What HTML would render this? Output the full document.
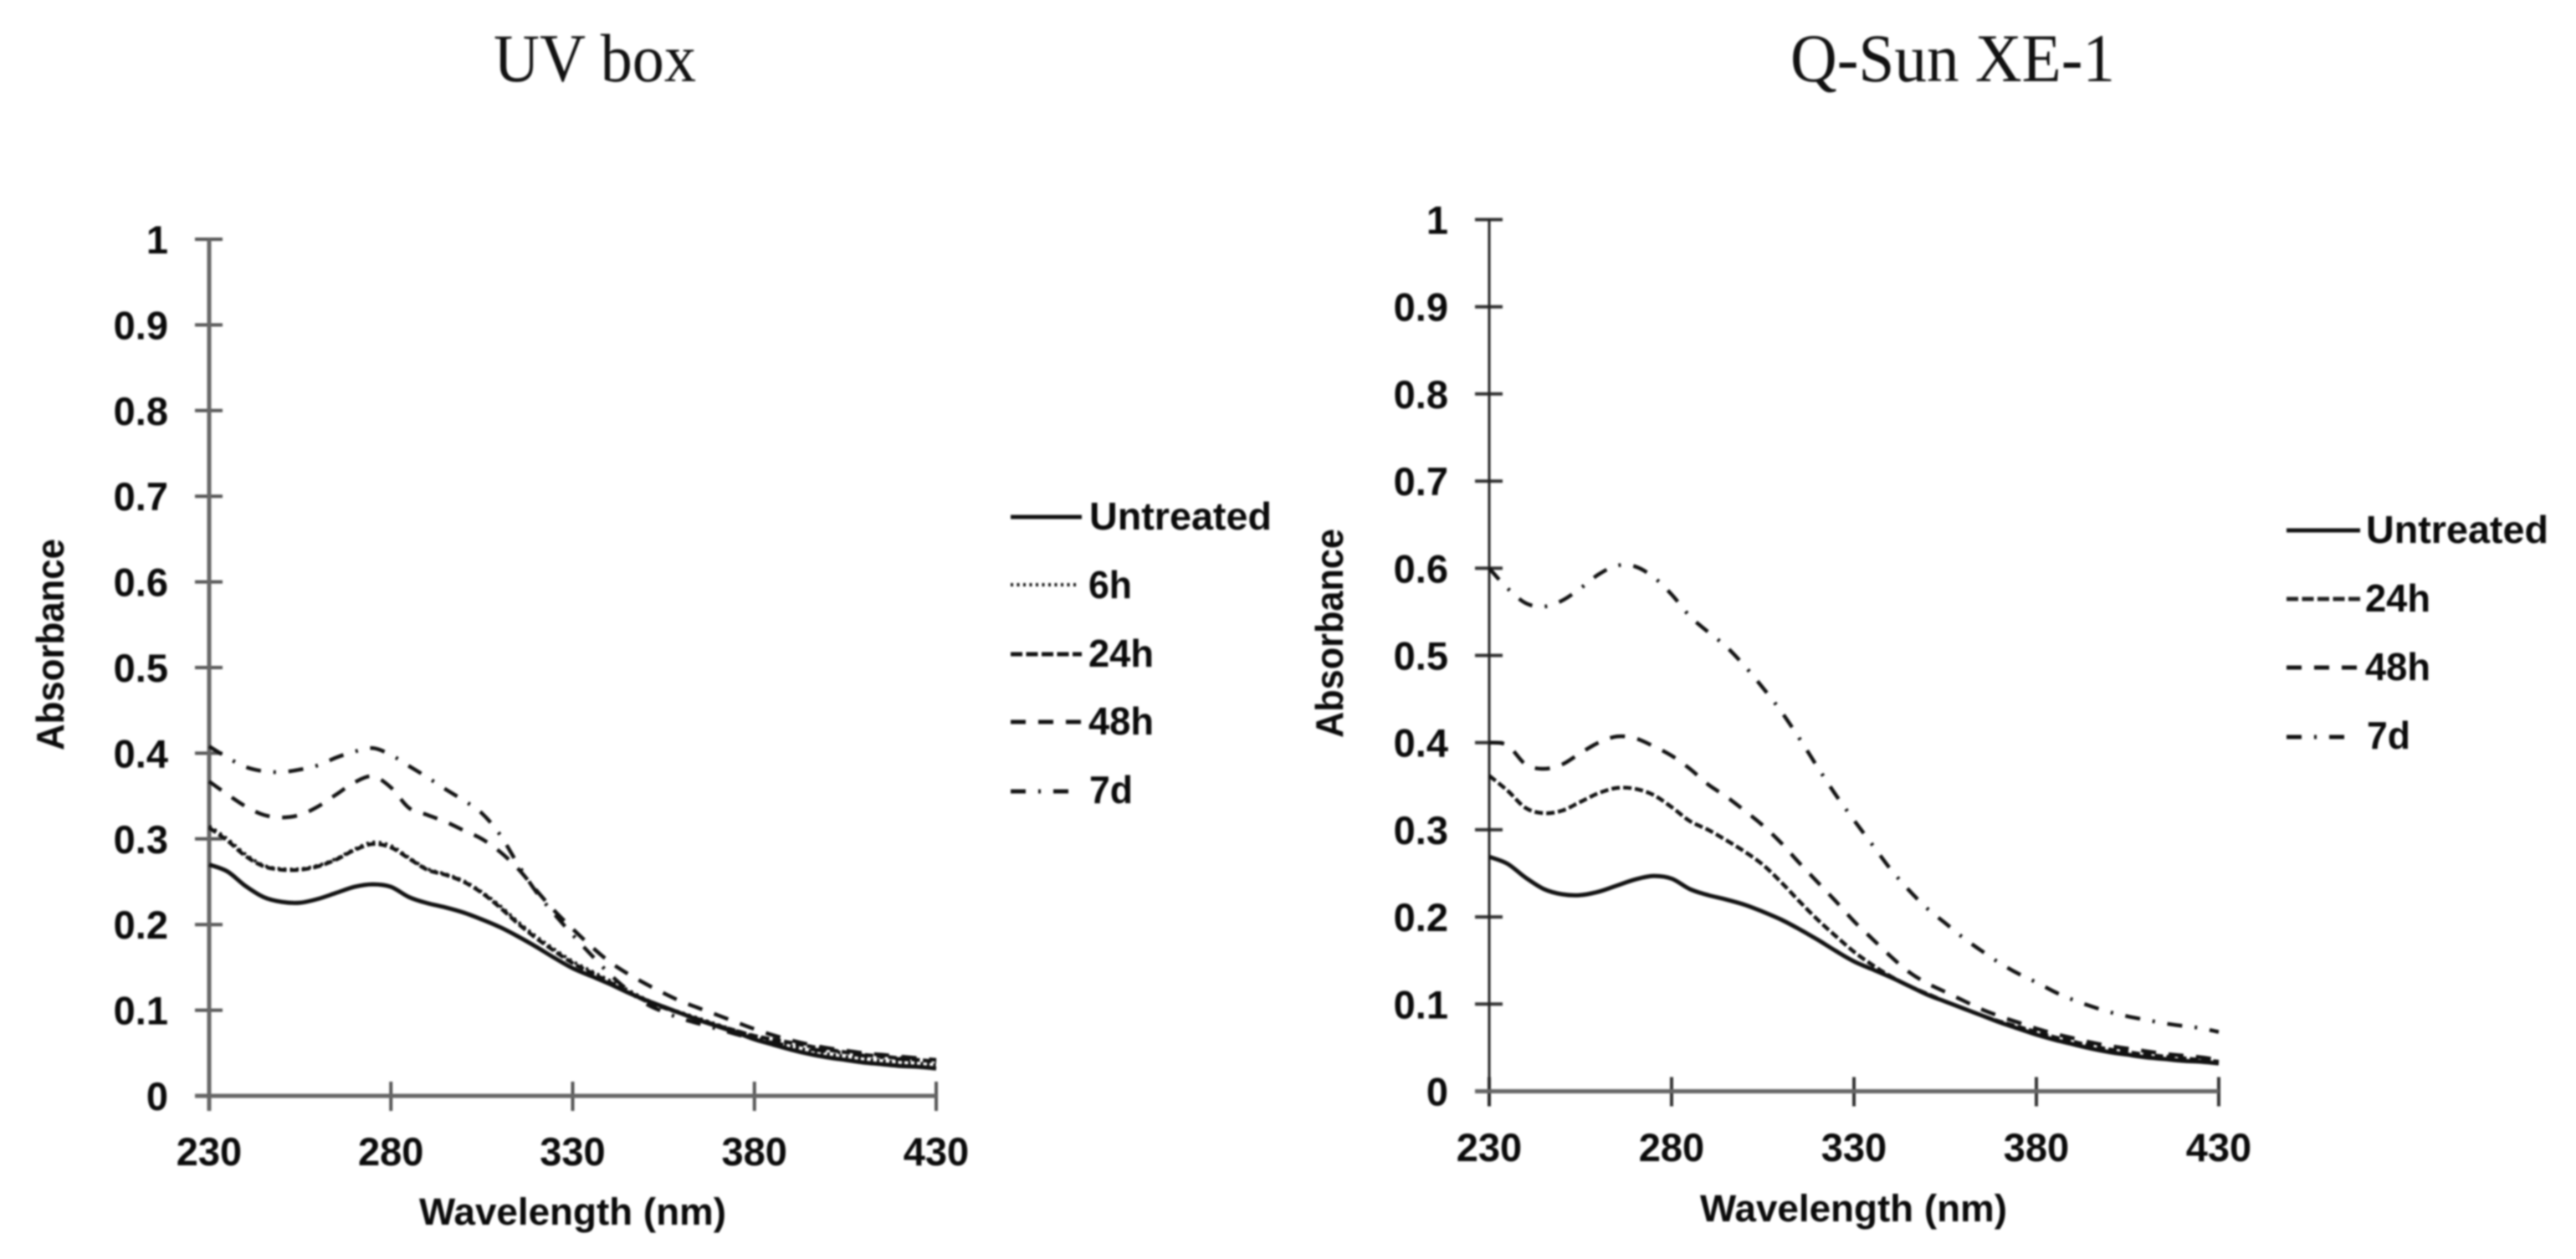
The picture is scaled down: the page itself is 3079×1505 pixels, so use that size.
<!DOCTYPE html>
<html lang="en">
<head>
<meta charset="utf-8">
<title>UV box and Q-Sun XE-1 absorbance spectra</title>
<style>
html,body{margin:0;padding:0;background:#fff;width:3079px;height:1505px;overflow:hidden}
svg{display:block;filter:blur(1px)}
.lab{font-family:"Liberation Sans",sans-serif;font-weight:700;fill:#0a0a0a}
.title{font-family:"Liberation Serif",serif;font-size:82px;fill:#111}
</style>
</head>
<body>
<svg id="figure" width="3079" height="1505" viewBox="0 0 3079 1505" xmlns="http://www.w3.org/2000/svg">
  <text class="title" x="590" y="97" textLength="242" lengthAdjust="spacingAndGlyphs">UV box</text>
  <text class="title" x="2140" y="97" textLength="388" lengthAdjust="spacingAndGlyphs">Q-Sun XE-1</text>

  <text class="lab" x="501" y="1464" font-size="45" textLength="367" lengthAdjust="spacingAndGlyphs">Wavelength (nm)</text>
  <text class="lab" x="2032" y="1460" font-size="45" textLength="367" lengthAdjust="spacingAndGlyphs">Wavelength (nm)</text>
  <text class="lab" transform="translate(76,897) rotate(-90)" font-size="46" textLength="253" lengthAdjust="spacingAndGlyphs">Absorbance</text>
  <text class="lab" transform="translate(1605,882) rotate(-90)" font-size="46" textLength="250" lengthAdjust="spacingAndGlyphs">Absorbance</text>

  <g>
    <g>
      <line x1="1208" x2="1293" y1="618" y2="618" stroke="#111" stroke-width="5"/>
      <text class="lab" x="1302" y="633" font-size="46" textLength="218" lengthAdjust="spacingAndGlyphs">Untreated</text>
    </g>
    <g>
      <line x1="1208" x2="1288" y1="699" y2="699" stroke="#111" stroke-width="4" stroke-dasharray="3 4.5"/>
      <text class="lab" x="1301" y="715" font-size="46" textLength="52" lengthAdjust="spacingAndGlyphs">6h</text>
    </g>
    <g>
      <line x1="1208" x2="1293" y1="782" y2="782" stroke="#111" stroke-width="5" stroke-dasharray="14 4.5"/>
      <text class="lab" x="1301" y="797" font-size="46" textLength="78" lengthAdjust="spacingAndGlyphs">24h</text>
    </g>
    <g>
      <line x1="1208" x2="1293" y1="863" y2="863" stroke="#111" stroke-width="5" stroke-dasharray="18 15"/>
      <text class="lab" x="1301" y="878" font-size="46" textLength="78" lengthAdjust="spacingAndGlyphs">48h</text>
    </g>
    <g>
      <line x1="1208" x2="1277" y1="946" y2="946" stroke="#111" stroke-width="5" stroke-dasharray="18 15 3 15 18"/>
      <text class="lab" x="1302" y="960" font-size="46" textLength="52" lengthAdjust="spacingAndGlyphs">7d</text>
    </g>
  </g>

  <g>
    <g>
      <line x1="2733" x2="2821" y1="634" y2="634" stroke="#111" stroke-width="5"/>
      <text class="lab" x="2828" y="649" font-size="46" textLength="218" lengthAdjust="spacingAndGlyphs">Untreated</text>
    </g>
    <g>
      <line x1="2733" x2="2821" y1="716" y2="716" stroke="#222" stroke-width="5" stroke-dasharray="14 4.5"/>
      <text class="lab" x="2827" y="731" font-size="46" textLength="78" lengthAdjust="spacingAndGlyphs">24h</text>
    </g>
    <g>
      <line x1="2733" x2="2821" y1="798" y2="798" stroke="#111" stroke-width="5" stroke-dasharray="18 15"/>
      <text class="lab" x="2827" y="813" font-size="46" textLength="78" lengthAdjust="spacingAndGlyphs">48h</text>
    </g>
    <g>
      <line x1="2733" x2="2803" y1="881" y2="881" stroke="#111" stroke-width="5" stroke-dasharray="18 15 3 15 18"/>
      <text class="lab" x="2829" y="895" font-size="46" textLength="52" lengthAdjust="spacingAndGlyphs">7d</text>
    </g>
  </g>
</svg>
<script>
const wavelengths = [230,235,240,245,250,255,260,265,270,275,280,285,290,295,300,305,310,315,320,325,330,335,340,345,350,355,360,365,370,375,380,385,390,395,400,405,410,415,420,425,430];
const xTickLabels = [230,280,330,380,430];
const yTickLabels = [0,0.1,0.2,0.3,0.4,0.5,0.6,0.7,0.8,0.9,1];

const uvUntreated = [.270,.262,.245,.232,.2265,.2255,.230,.237,.244,.247,.244,.232,.225,.220,.214,.206,.197,.186,.174,.161,.149,.140,.131,.121,.112,.104,.096,.088,.081,.074,.066,.060,.054,.049,.045,.042,.039,.037,.035,.034,.032];
const uv6h = [.315,.300,.282,.269,.265,.265,.269,.277,.288,.296,.292,.278,.265,.259,.251,.238,.222,.203,.186,.171,.157,.146,.135,.124,.113,.104,.097,.090,.083,.076,.069,.063,.058,.053,.049,.046,.043,.041,.039,.038,.036];
const uv24h = [.313,.298,.280,.268,.264,.264,.268,.276,.287,.294,.290,.277,.264,.258,.250,.237,.220,.201,.184,.169,.155,.144,.133,.122,.111,.103,.096,.089,.082,.076,.070,.066,.062,.058,.054,.051,.048,.046,.044,.042,.040];
const uv48h = [.367,.352,.338,.328,.325,.328,.338,.352,.366,.373,.360,.336,.328,.320,.310,.300,.285,.265,.240,.216,.195,.175,.157,.143,.131,.120,.110,.102,.094,.086,.078,.071,.065,.060,.056,.053,.050,.048,.046,.044,.042];
const uv7d = [.408,.395,.384,.379,.378,.381,.386,.395,.402,.406,.398,.385,.372,.358,.345,.330,.305,.270,.238,.212,.188,.165,.143,.124,.108,.098,.090,.084,.078,.072,.066,.062,.058,.055,.052,.050,.047,.045,.043,.042,.040];

const qsunUntreated = [.269,.261,.245,.232,.226,.225,.229,.236,.243,.247,.244,.232,.225,.220,.214,.206,.197,.186,.174,.161,.149,.140,.131,.121,.111,.103,.095,.087,.079,.072,.065,.059,.054,.049,.045,.042,.039,.037,.035,.034,.032];
const qsun24h = [.362,.345,.325,.319,.322,.332,.342,.348,.347,.340,.326,.310,.300,.288,.275,.260,.240,.218,.197,.178,.160,.145,.132,.121,.112,.103,.095,.087,.080,.074,.068,.062,.057,.052,.048,.045,.042,.040,.038,.036,.034];
const qsun48h = [.400,.397,.375,.370,.375,.388,.400,.407,.405,.396,.385,.370,.352,.338,.322,.305,.285,.262,.240,.218,.195,.175,.155,.137,.124,.114,.104,.094,.086,.079,.072,.066,.061,.056,.052,.049,.046,.043,.041,.039,.036];
const qsun7d = [.600,.577,.560,.556,.563,.577,.593,.603,.602,.590,.570,.545,.527,.510,.488,.463,.436,.405,.372,.340,.311,.283,.255,.231,.210,.193,.176,.161,.147,.135,.125,.114,.105,.0975,.091,.086,.082,.078,.075,.0725,.068];

const SVGNS = 'http://www.w3.org/2000/svg';
const figure = document.getElementById('figure');

function make(tag, attrs, parent) {
  const el = document.createElementNS(SVGNS, tag);
  for (const k in attrs) el.setAttribute(k, attrs[k]);
  parent.appendChild(el);
  return el;
}

function smoothPath(pts) {
  let d = 'M' + pts[0][0].toFixed(1) + ' ' + pts[0][1].toFixed(1);
  for (let i = 0; i < pts.length - 1; i++) {
    const p0 = pts[Math.max(i - 1, 0)];
    const p1 = pts[i];
    const p2 = pts[i + 1];
    const p3 = pts[Math.min(i + 2, pts.length - 1)];
    const c1x = p1[0] + (p2[0] - p0[0]) / 6;
    const c1y = p1[1] + (p2[1] - p0[1]) / 6;
    const c2x = p2[0] - (p3[0] - p1[0]) / 6;
    const c2y = p2[1] - (p3[1] - p1[1]) / 6;
    d += 'C' + c1x.toFixed(1) + ' ' + c1y.toFixed(1) + ' ' + c2x.toFixed(1) + ' ' + c2y.toFixed(1) + ' ' + p2[0].toFixed(1) + ' ' + p2[1].toFixed(1);
  }
  return d;
}

function drawChart(prefix, box, series) {
  const xScale = w => box.x0 + (w - 230) / 200 * (box.x1 - box.x0);
  const yScale = v => box.y0 - v * (box.y0 - box.y1);

  const g = make('g', {}, figure);
  
  

  yTickLabels.forEach(v => {
    const t = make('line', {x1: box.x0 - 17, x2: box.x0 + 16, y1: yScale(v), y2: yScale(v), stroke: box.tickColor, 'stroke-width': 4}, g);
    
    
    const l = make('text', {class: 'lab', x: box.labelRight, y: yScale(v) + 17, 'font-size': 47, 'text-anchor': 'end'}, g);
    
    
    l.textContent = String(v);
  });

  xTickLabels.forEach(w => {
    const t = make('line', {x1: xScale(w), x2: xScale(w), y1: box.y0 - 17, y2: box.y0 + 18, stroke: box.tickColor, 'stroke-width': 4}, g);
    
    
    const l = make('text', {class: 'lab', x: xScale(w), y: box.xLabelBase, 'font-size': 47, 'text-anchor': 'middle'}, g);
    
    
    l.textContent = String(w);
  });

  const yAxis = make('line', {x1: box.x0, x2: box.x0, y1: yScale(1), y2: box.y0 + 18, stroke: box.yAxisColor, 'stroke-width': box.yAxisWidth}, g);
  
  
  const xAxis = make('line', {x1: box.x0 - 17, x2: box.x1, y1: box.y0, y2: box.y0, stroke: '#666', 'stroke-width': 5}, g);
  
  

  series.forEach(s => {
    const pts = s.values.map((v, i) => [xScale(wavelengths[i]), yScale(v)]);
    const p = make('path', {d: smoothPath(pts), fill: 'none', stroke: '#111', 'stroke-width': s.width, 'stroke-dasharray': s.dash, 'stroke-linejoin': 'round'}, g);
    
    
  });
}

drawChart('uv-box',
  {x0: 250, x1: 1119, y0: 1310, y1: 286, labelRight: 201, xLabelBase: 1393, tickColor: '#555', yAxisColor: '#666', yAxisWidth: 5},
  [
    {name: '7d', values: uv7d, dash: '18 15 3 15', width: 4.5},
    {name: '48h', values: uv48h, dash: '18 15', width: 4.5},
    {name: '24h', values: uv24h, dash: '10 4', width: 4.5},
    {name: '6h', values: uv6h, dash: '3 4.5', width: 4},
    {name: 'untreated', values: uvUntreated, dash: 'none', width: 5}
  ]);

drawChart('q-sun',
  {x0: 1780, x1: 2652, y0: 1304.5, y1: 262.5, labelRight: 1731, xLabelBase: 1388, tickColor: '#333', yAxisColor: '#222', yAxisWidth: 3},
  [
    {name: '7d', values: qsun7d, dash: '18 15 3 15', width: 4.5},
    {name: '48h', values: qsun48h, dash: '18 15', width: 4.5},
    {name: '24h', values: qsun24h, dash: '10 4', width: 4.5},
    {name: 'untreated', values: qsunUntreated, dash: 'none', width: 5}
  ]);
</script>
</body>
</html>
